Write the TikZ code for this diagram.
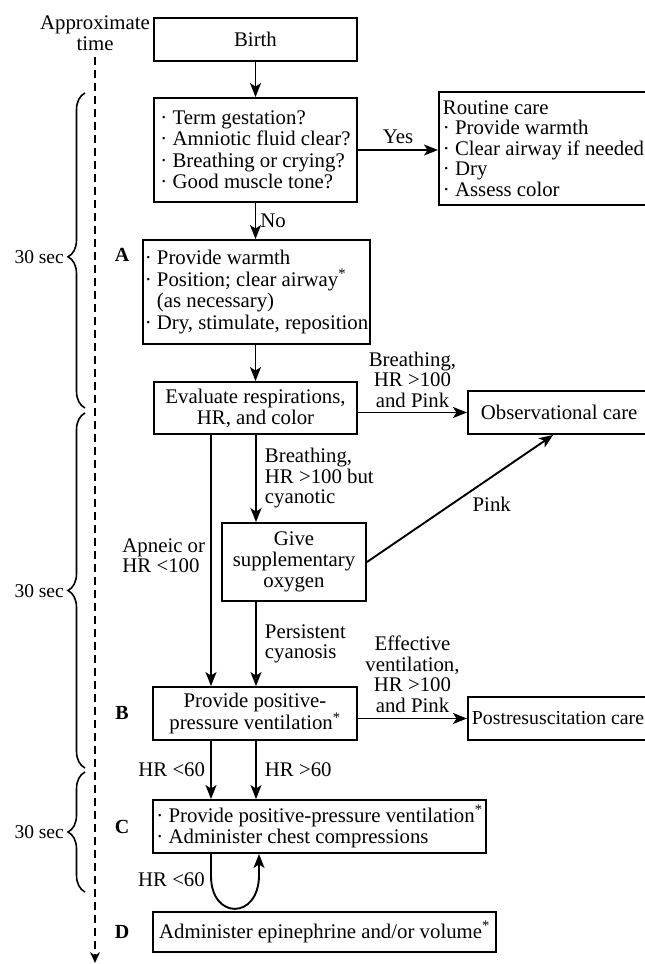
\documentclass[tikz,border=0pt]{standalone}
\usepackage{fontspec}
\setmainfont{Liberation Serif}
\usetikzlibrary{positioning,arrows.meta,calc,decorations.pathreplacing}

\begin{document}
\begin{tikzpicture}[
  x=1pt, y=-1pt,
  font=\fontsize{20.8}{21}\selectfont,
  box/.style={draw, line width=1.9pt, inner sep=0pt, align=center},
  lbox/.style={box, align=left},
  arr/.style={-{Stealth[length=14pt,width=11pt,inset=3.5pt]}, line width=1.9pt},
  lbl/.style={inner sep=0pt, align=center, font=\fontsize{20.8}{20.5}\selectfont},
  stage/.style={inner sep=0pt, font=\fontsize{20}{20}\selectfont\bfseries},
  dur/.style={anchor=east, inner sep=0pt, font=\fontsize{19.5}{19.5}\selectfont},
  timebrace/.style={decorate, decoration={brace, amplitude=17pt}, line width=1.6pt}
]
\useasboundingbox (0,0) rectangle (645,964);
\clip (0,0) rectangle (645,964);

% columns of the down arrows
\coordinate (colL) at (211,0);
\coordinate (colM) at (256,0);
\coordinate (colR) at (259,0);

% time axis
\node[inner sep=0pt, align=center, font=\fontsize{20.8}{20.5}\selectfont] (timelbl) at (95,33) {Approximate\\time};
\coordinate (tend) at (95,963);
\draw[dash pattern=on 8pt off 5pt, line width=1.5pt, -{Stealth[length=11pt,width=10pt]}] ([yshift=-7pt]timelbl.south) -- (tend);

\draw[timebrace, decoration={aspect=0.48}] (85,408) -- (85,93);
\draw[timebrace] (85,768) -- (85,413);
\draw[timebrace] (85,892) -- (85,772);
\node[dur] (sec1) at (64,257) {30 sec};
\node[dur] (sec2) at (64,591) {30 sec};
\node[dur] (sec3) at (64,832) {30 sec};

\node[stage] (stA) at (122,255) {A};
\node[stage] (stB) at (122,713) {B};
\node[stage] (stC) at (122,827) {C};
\node[stage] (stD) at (122,932) {D};

% boxes
\node[box, minimum width=203pt, minimum height=43pt] (birth) at (255.5,39.5) {Birth};
\node[lbox, minimum width=203pt, minimum height=104pt, font=\fontsize{20.8}{21.5}\selectfont] (quest) at (255.5,150)
  {· Term gestation?\\· Amniotic fluid clear?\\· Breathing or crying?\\· Good muscle tone?};
\node[lbox, anchor=west, inner xsep=4pt, minimum height=113pt, font=\fontsize{20.8}{20.5}\selectfont] (routine) at (438,148.5)
  {Routine care\\· Provide warmth\\· Clear airway if needed\\· Dry\\· Assess color};
\node[lbox, minimum width=227pt, minimum height=104pt, font=\fontsize{20.8}{21.5}\selectfont] (warm) at (256.5,292)
  {· Provide warmth\\· Position; clear airway\textsuperscript{*}\\\phantom{· }(as necessary)\\· Dry, stimulate, reposition};
\node[box, minimum width=203pt, minimum height=52pt] (eval) at (255.5,408)
  {Evaluate respirations,\\HR, and color};
\node[box, anchor=west, inner xsep=13pt, minimum height=43pt] (obs) at (467,412.5) {Observational care};
\node[box, minimum width=144pt, minimum height=78pt] (give) at (294,562) {Give\\supplementary\\oxygen};
\node[box, minimum width=204pt, minimum height=53pt] (ppv) at (255,713.5)
  {Provide positive-\\pressure ventilation\textsuperscript{*}};
\node[box, anchor=west, inner xsep=4pt, minimum height=43pt, font=\fontsize{19.8}{21}\selectfont] (post) at (467,718.5) {Postresuscitation care};
\node[lbox, minimum width=333pt, minimum height=53pt] (cbox) at (319.5,826.5)
  {· Provide positive-pressure ventilation\textsuperscript{*}\\· Administer chest compressions};
\node[box, minimum width=343pt, minimum height=40pt] (dbox) at (324.5,932) {Administer epinephrine and/or volume\textsuperscript{*}};

% connectors
\draw[arr] (birth) -- (quest);
\draw[arr] (quest) -- node[lbl, above=5pt] (yes) {Yes} (routine.west |- quest);
\draw[arr] (quest) -- node[lbl, right=4pt] (no) {No} (warm.north -| quest);
\draw[arr] (warm.south -| eval) -- (eval);
\draw[arr] (eval.east |- obs) -- node[lbl, above=4pt] (lblbr) {Breathing,\\HR >100\\and Pink} (obs);
\draw[arr] (eval.south -| colM) -- node[lbl, right=8pt, align=left] (lblcy) {Breathing,\\HR >100 but\\cyanotic} (give.north -| colM);
\draw[arr] (eval.south -| colL) -- node[lbl, left=5pt, align=left, pos=0.48] (lblap) {Apneic or\\HR <100} (ppv.north -| colL);
\draw[arr] (give.south -| colM) -- node[lbl, right=8pt, align=left] (lblpc) {Persistent\\cyanosis} (ppv.north -| colM);
\draw[arr] (give.east) -- node[lbl, pos=0.67, below=19pt] (lblpk) {Pink} ([xshift=-6pt]obs.south);
\draw[arr] (ppv.east |- post) -- node[lbl, above=5pt] (lblef) {Effective\\ventilation,\\HR >100\\and Pink} (post);
\draw[arr] (ppv.south -| colL) -- node[lbl, left=5pt] (lbllt) {HR <60} (cbox.north -| colL);
\draw[arr] (ppv.south -| colM) -- node[lbl, right=8pt] (lblgt) {HR >60} (cbox.north -| colM);
\draw[arr] (cbox.south -| colL) -- ++(0,22) .. controls (211,920) and (259,920) .. (259,875) -- (cbox.south -| colR);
\node[lbl, anchor=east] (lblloop) at (205,880) {HR <60};

\end{tikzpicture}
\end{document}
